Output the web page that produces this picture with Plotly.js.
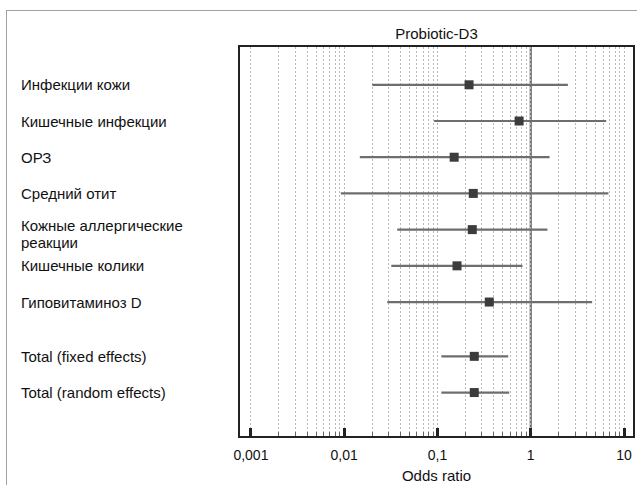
<!DOCTYPE html>
<html>
<head>
<meta charset="utf-8">
<script src="https://cdn.plot.ly/plotly-3.0.1.min.js"></script>
<style>
  html, body { margin: 0; padding: 0; background: #fff; }
  #frame { position: absolute; left: 6px; top: 10px; width: 640px; height: 480px;
           border-top: 1px solid #a0a0a0; border-left: 1px solid #a0a0a0; }
  #chart { position: absolute; left: 0; top: 0; width: 637px; height: 485px; }
</style>
</head>
<body>
<div id="frame"></div>
<div id="chart"></div>
<script>
// ---- data ----
const chartTitle = "Probiotic-D3";
const axisTitle = "Odds ratio";
const labels = [
  "Инфекции кожи",
  "Кишечные инфекции",
  "ОРЗ",
  "Средний отит",
  "Кожные аллергические\nреакции",
  "Кишечные колики",
  "Гиповитаминоз D",
  "Total (fixed effects)",
  "Total (random effects)"
];
const oddsRatio = [0.218, 0.75, 0.151, 0.242, 0.236, 0.162, 0.359, 0.248, 0.248];
const ciLow     = [0.020, 0.092, 0.0147, 0.0092, 0.037, 0.032, 0.029, 0.110, 0.110];
const ciHigh    = [2.50, 6.43, 1.59, 6.8, 1.51, 0.815, 4.55, 0.573, 0.587];
const tickValues = [0.001, 0.01, 0.1, 1, 10];
const tickLabels = ["0,001", "0,01", "0,1", "1", "10"];
const nullValue = 1;

// ---- derived ----
const rowY = labels.map((l, i) => i + (l.startsWith("Total") ? 0.5 : 0));
const minorVals = [];
for (let e = -3; e <= 0; e++) {
  for (let m = 2; m <= 9; m++) minorVals.push(m * Math.pow(10, e));
}

const FONT = "Liberation Sans, Arial, Helvetica, sans-serif";

const trace = {
  type: "scatter",
  mode: "markers",
  x: oddsRatio,
  y: rowY,
  marker: { symbol: "square", size: 9, color: "#3c3c3c", line: { width: 0 } },
  error_x: {
    type: "data",
    symmetric: false,
    array: oddsRatio.map((v, i) => ciHigh[i] - v),
    arrayminus: oddsRatio.map((v, i) => v - ciLow[i]),
    color: "#6e6e6e",
    thickness: 2.2,
    width: 0
  },
  hoverinfo: "skip",
  showlegend: false
};

const annotations = [];
labels.forEach((l, i) => {
  const lines = l.split("\n");
  lines.forEach((line, k) => {
    annotations.push({
      xref: "paper", yref: "y",
      x: 0, y: rowY[i],
      xanchor: "left", yanchor: "middle",
      xshift: -220, yshift: (lines.length > 1 ? 4 : 0) - 17 * k,
      borderpad: 0,
      text: line, showarrow: false,
      font: { family: FONT, size: 15, color: "#111" }
    });
  });
});

const layout = {
  width: 637, height: 485,
  margin: { l: 240, r: 4, t: 47, b: 49, pad: 0 },
  paper_bgcolor: "rgba(0,0,0,0)",
  plot_bgcolor: "#fff",
  font: { family: FONT, size: 14, color: "#111" },
  title: {
    text: chartTitle,
    x: 0.5, xref: "paper", xanchor: "center",
    y: 1, yref: "paper", yanchor: "bottom", pad: { b: 8 },
    font: { family: FONT, size: 15, color: "#111" }
  },
  xaxis: {
    type: "log",
    range: [-3.117, 1.096],
    tickmode: "array",
    tickvals: tickValues,
    ticktext: tickLabels,
    ticks: "inside", ticklen: 8, tickwidth: 3, tickcolor: "#222",
    ticklabelstandoff: 5,
    showline: true, linecolor: "#222", linewidth: 2, mirror: true,
    showgrid: true, gridcolor: "#b8b8b8", gridwidth: 1, griddash: "2px,2px",
    zeroline: false,
    tickfont: { family: FONT, size: 14, color: "#111" },
    title: { text: axisTitle, standoff: 9, font: { family: FONT, size: 15, color: "#111" } },
    minor: {
      tickmode: "array", tickvals: minorVals,
      ticks: "inside", ticklen: 4, tickwidth: 1, tickcolor: "#666",
      showgrid: true, gridcolor: "#b8b8b8", gridwidth: 1, griddash: "2px,2px"
    },
    fixedrange: true
  },
  yaxis: {
    range: [9.70, -1.044],
    autorange: false,
    showticklabels: false, ticks: "",
    showgrid: false, zeroline: false,
    showline: true, linecolor: "#222", linewidth: 2, mirror: true,
    fixedrange: true
  },
  shapes: [{
    type: "line", layer: "between",
    xref: "x", yref: "paper",
    x0: nullValue, x1: nullValue, y0: 0, y1: 1,
    line: { color: "#6e6e6e", width: 2.2 }
  }],
  annotations: annotations
};

Plotly.newPlot("chart", [trace], layout, { displayModeBar: false, staticPlot: true });
</script>
</body>
</html>
